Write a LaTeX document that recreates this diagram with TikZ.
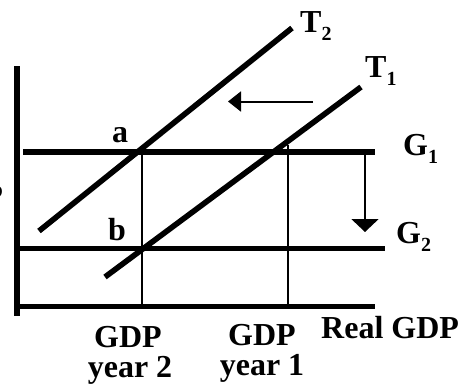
\documentclass[tikz,border=0pt]{standalone}
\usepackage{fontspec}
\setmainfont{Liberation Serif}
\usetikzlibrary{arrows.meta}
\newcommand{\lbl}[2]{#1\raisebox{-0.26em}{\fontsize{20}{20}\selectfont #2}}
\tikzset{
  thick line/.style={line width=5.6pt, line cap=butt},
  thin line/.style={line width=2pt},
  txt/.style={inner sep=0pt, font=\fontsize{32}{34}\selectfont\bfseries},
  harrow/.style={line width=2pt, -{Triangle[length=13pt,width=20pt]}},
  varrow/.style={line width=2pt, -{Triangle[length=13pt,width=27pt]}}
}
\begin{document}
\begin{tikzpicture}[x=1pt,y=-1pt]
\useasboundingbox (0,0) rectangle (459,384);
% coordinates
\coordinate (ytop) at (17,66);
\coordinate (ybot) at (17,316);
\coordinate (xl) at (17,306.5);
\coordinate (xr) at (375,306.5);
\coordinate (g1l) at (23,152);
\coordinate (g1r) at (375,152);
\coordinate (g2l) at (17,248.5);
\coordinate (g2r) at (385,248.5);
\coordinate (v1t) at (142,152);
\coordinate (v1b) at (142,306);
\coordinate (v2t) at (288,145);
\coordinate (v2b) at (288,306);
\coordinate (t2a) at (39,231);
\coordinate (t2b) at (292,28);
\coordinate (t1a) at (105,277);
\coordinate (t1b) at (361,87);
\coordinate (ha) at (313,101.5);
\coordinate (hb) at (228,101.5);
\coordinate (va) at (365,155);
\coordinate (vb) at (365,232);
% thin lines
\draw[thin line] (v1t) -- (v1b);
\draw[thin line] (v2t) -- (v2b);
% axes and G lines
\draw[thick line] (ytop) -- (ybot);
\draw[thick line] (xl) -- (xr);
\draw[thick line] (g1l) -- (g1r);
\draw[thick line] (g2l) -- (g2r);
% T lines
\draw[thick line] (t2a) -- (t2b);
\draw[thick line] (t1a) -- (t1b);
% arrows
\draw[harrow] (ha) -- (hb);
\draw[varrow] (va) -- (vb);
% labels
\node[txt, anchor=base west] (T2) at (300,32) {\lbl{T}{2}};
\node[txt, anchor=base west] (T1) at (365,77) {\lbl{T}{1}};
\node[txt, anchor=base west] (G1) at (403,155) {\lbl{G}{1}};
\node[txt, anchor=base west] (G2) at (396,243) {\lbl{G}{2}};
\node[txt, anchor=base west] (a) at (112,142) {a};
\node[txt, anchor=base west] (b) at (108,240) {b};
\node[txt, anchor=base] (gdp2) at (128,347) {GDP};
\node[txt, anchor=base] (yr2) at (130,377) {year 2};
\node[txt, anchor=base] (gdp1) at (262,345) {GDP};
\node[txt, anchor=base] (yr1) at (262,375) {year 1};
\node[txt, anchor=base west] (real) at (321,338) {Real GDP};
\node[txt, anchor=base east] (P) at (3,206) {P};
\end{tikzpicture}
\end{document}
